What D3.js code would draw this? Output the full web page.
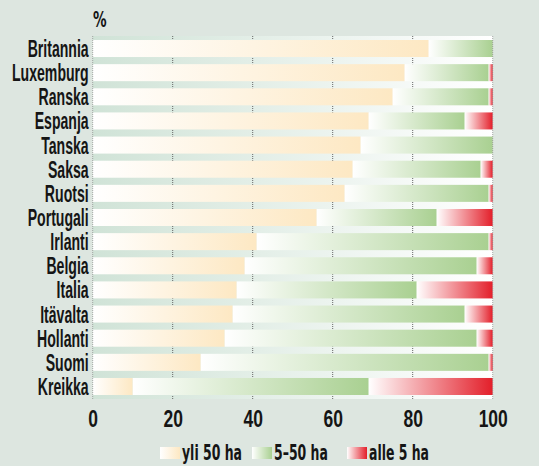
<!DOCTYPE html>
<html>
<head>
<meta charset="utf-8">
<script src="https://cdn.jsdelivr.net/npm/d3@7"></script>
<style>
  body { margin: 0; background: #dde6e0; }
  text { font-family: "Liberation Sans Narrow", "DejaVu Sans Condensed", sans-serif; fill: #151515; }
</style>
</head>
<body>
<div id="chart"></div>
<script>
const width = 539;
const height = 466;

const countries = ["Britannia", "Luxemburg", "Ranska", "Espanja", "Tanska", "Saksa", "Ruotsi",
  "Portugali", "Irlanti", "Belgia", "Italia", "Itävalta", "Hollanti", "Suomi", "Kreikka"];
const over50 = [84, 78, 75, 69, 67, 65, 63, 56, 41, 38, 36, 35, 33, 27, 10];
const from5to50 = [16, 21, 24, 24, 33, 32, 36, 30, 58, 58, 45, 58, 63, 72, 59];
const under5 = [0, 1, 1, 7, 0, 3, 1, 14, 1, 4, 19, 7, 4, 1, 31];
const seriesNames = ["yli 50 ha", "5\u201350 ha", "alle 5 ha"];
const xTicks = [0, 20, 40, 60, 80, 100];

const rows = countries.map((c, i) => ({ country: c, a: over50[i], b: from5to50[i], c: under5[i] }));
const keys = ["a", "b", "c"];
const colors = ["#fde8c3", "#a9d091", "#e31f2a"];

const svg = d3.select("#chart").append("svg")
  .attr("width", width)
  .attr("height", height);

svg.append("rect").attr("width", width).attr("height", height).attr("fill", "#dde6e0");

const defs = svg.append("defs");
const bgGrad = defs.append("linearGradient").attr("id", "bgGrad");
bgGrad.append("stop").attr("offset", "0%").attr("stop-color", "#d0e3d7");
bgGrad.append("stop").attr("offset", "100%").attr("stop-color", "#ffffff");
colors.forEach((col, i) => {
  const g = defs.append("linearGradient").attr("id", "grad" + i);
  g.append("stop").attr("offset", "0%").attr("stop-color", "#ffffff");
  g.append("stop").attr("offset", "100%").attr("stop-color", col);
});

const x = d3.scaleLinear().domain([0, 100]).range([92.7, 492.7]);
const y = d3.scaleBand().domain(countries).range([36, 399]).paddingInner(0.295).paddingOuter(0.166);

// plot background
svg.append("rect")
  .attr("x", x(0)).attr("y", 36)
  .attr("width", x(100) - x(0)).attr("height", 363)
  .attr("fill", "url(#bgGrad)");

// grid
svg.append("g").selectAll("line")
  .data(xTicks.slice(1, -1))
  .enter().append("line")
  .attr("x1", d => x(d)).attr("x2", d => x(d))
  .attr("y1", 36).attr("y2", 399)
  .attr("stroke", "#666").attr("stroke-width", 1)
  .attr("stroke-dasharray", "1,1");

const stacked = d3.stack().keys(keys)(rows);

svg.append("g").selectAll("g")
  .data(stacked)
  .enter().append("g")
  .attr("fill", (d, i) => `url(#grad${i})`)
  .selectAll("rect")
  .data(d => d.filter(p => p[1] > p[0]))
  .enter().append("rect")
  .attr("x", d => x(d[0]))
  .attr("y", d => y(d.data.country))
  .attr("width", d => x(d[1]) - x(d[0]))
  .attr("height", y.bandwidth());

// edge lines over bars
svg.append("g").selectAll("line")
  .data([0, 100])
  .enter().append("line")
  .attr("x1", d => x(d)).attr("x2", d => x(d))
  .attr("y1", 36).attr("y2", 399)
  .attr("stroke", "#888").attr("stroke-width", 1)
  .attr("stroke-dasharray", "1,1")
  .attr("opacity", 0.7);

// y labels
const yAxis = svg.append("g")
  .attr("transform", `translate(${x(0) - 4},0)`)
  .call(d3.axisLeft(y).tickSize(0).tickPadding(0));
yAxis.select(".domain").remove();
yAxis.selectAll("text")
  .attr("font-size", 23.5)
  .attr("font-weight", "bold")
  .attr("dy", "0.36em")
  .attr("transform", "scale(0.6,1)")
  .style("font-family", "'Liberation Sans Narrow', sans-serif")
  .attr("fill", "#151515");

// x labels
const xAxis = svg.append("g")
  .attr("transform", "translate(0,427)")
  .call(d3.axisBottom(x).tickValues(xTicks).tickSize(0).tickPadding(0));
xAxis.select(".domain").remove();
xAxis.selectAll("text")
  .attr("font-size", 23)
  .attr("font-weight", "bold")
  .attr("dy", 0)
  .attr("transform", "scale(0.76,1)")
  .style("font-family", "'Liberation Sans Narrow', sans-serif")
  .attr("fill", "#151515");

svg.append("text")
  .attr("transform", "translate(93,27) scale(0.72,1)")
  .attr("font-size", 21)
  .attr("font-weight", "bold")
  .text("%");

// legend
const legendX = [160, 252, 347];
const legend = svg.append("g").selectAll("g")
  .data(seriesNames)
  .enter().append("g")
  .attr("transform", (d, i) => `translate(${legendX[i]},447)`);
legend.append("rect")
  .attr("width", 20).attr("height", 12)
  .attr("fill", (d, i) => `url(#grad${i})`);
legend.append("text")
  .attr("transform", "translate(22,13) scale(0.66,1)")
  .attr("font-size", 21)
  .attr("font-weight", "bold")
  .text(d => d);
</script>
</body>
</html>
